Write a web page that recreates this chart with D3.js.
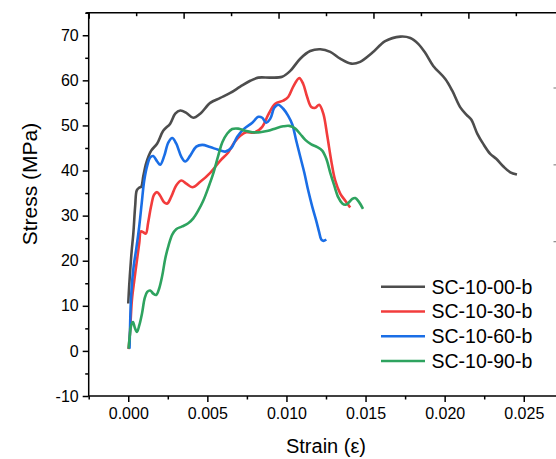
<!DOCTYPE html>
<html>
<head>
<meta charset="utf-8">
<script src="https://cdn.jsdelivr.net/npm/d3@7"></script>
<style>
  html, body { margin: 0; padding: 0; background: #fff; }
  svg { display: block; }
  text { font-family: "Liberation Sans", Arial, sans-serif; fill: #000; }
</style>
</head>
<body>
<svg id="chart" width="556" height="459"></svg>
<script>
// ---------- data ----------
const seriesNames = ["SC-10-00-b", "SC-10-30-b", "SC-10-60-b", "SC-10-90-b"];
const seriesColors = ["#4d4d4d", "#f23c3c", "#1a6ee6", "#2ea35f"];

const s00Strain = [0, 0.00006, 0.00016, 0.00022, 0.00032, 0.00044, 0.00054, 0.0007, 0.00082, 0.00095, 0.00114, 0.00145, 0.00183, 0.00221, 0.00265, 0.00297, 0.00329, 0.00367, 0.00411, 0.00455, 0.00518, 0.00582, 0.00645, 0.00708, 0.00771, 0.00822, 0.00898, 0.00973, 0.01024, 0.01087, 0.0115, 0.01214, 0.01277, 0.0134, 0.0141, 0.01466, 0.01542, 0.01624, 0.0172, 0.01783, 0.01833, 0.01877, 0.01928, 0.02004, 0.02048, 0.02099, 0.02137, 0.02168, 0.02206, 0.02244, 0.02288, 0.02326, 0.02371, 0.02415, 0.02457];
const s00Stress = [10.5, 14.5, 19.6, 22.3, 26.0, 32.2, 35.6, 36.2, 36.4, 38.7, 41.7, 44.4, 46.0, 48.8, 50.4, 52.6, 53.3, 52.8, 51.7, 52.6, 55.0, 56.1, 57.2, 58.6, 59.9, 60.6, 60.6, 60.8, 62.1, 64.8, 66.5, 66.9, 66.3, 64.8, 63.7, 64.1, 66.1, 68.7, 69.7, 69.4, 68.1, 66.1, 63.2, 60.3, 57.7, 54.0, 52.4, 51.3, 48.2, 45.9, 43.7, 42.6, 40.9, 39.6, 39.1];

const s30Strain = [0.00002, 0.0001, 0.00023, 0.00038, 0.00055, 0.0007, 0.0008, 0.00095, 0.00111, 0.00126, 0.00145, 0.00164, 0.00183, 0.00202, 0.00228, 0.00247, 0.00272, 0.00303, 0.00335, 0.00367, 0.00405, 0.00455, 0.00518, 0.00582, 0.00632, 0.0067, 0.00708, 0.00746, 0.00796, 0.00847, 0.00885, 0.00929, 0.0098, 0.01011, 0.01043, 0.01081, 0.01106, 0.01131, 0.01157, 0.01182, 0.01207, 0.01233, 0.01258, 0.01283, 0.01308, 0.0134, 0.01372, 0.01403];
const s30Stress = [0.4, 3.5, 11.2, 15.6, 20.1, 24.0, 26.5, 26.3, 26.0, 28.5, 32.2, 34.7, 35.2, 34.4, 32.9, 32.7, 34.2, 36.7, 37.8, 37.1, 36.3, 37.5, 39.5, 42.2, 44.0, 46.2, 47.7, 48.5, 48.4, 49.7, 52.4, 54.8, 55.5, 56.3, 58.6, 60.5, 59.2, 56.3, 54.1, 53.9, 54.6, 52.6, 47.7, 42.2, 37.8, 34.9, 33.3, 31.8];

const s60Strain = [0.00008, 0.00011, 0.00016, 0.00025, 0.00035, 0.00051, 0.0007, 0.00085, 0.00101, 0.0012, 0.00139, 0.00158, 0.00183, 0.00202, 0.00228, 0.00253, 0.00278, 0.00303, 0.00335, 0.0036, 0.00392, 0.0043, 0.00468, 0.00518, 0.00569, 0.00613, 0.00651, 0.00689, 0.00733, 0.00784, 0.00822, 0.00847, 0.00872, 0.00898, 0.00923, 0.00948, 0.0098, 0.01011, 0.01037, 0.01062, 0.01087, 0.01113, 0.01138, 0.01163, 0.01188, 0.01207, 0.0122, 0.01233, 0.01252];
const s60Stress = [0.5, 4.6, 10.6, 15.6, 19.0, 22.7, 27.8, 32.7, 37.8, 41.1, 42.9, 43.2, 42.0, 41.3, 43.3, 46.2, 47.2, 46.0, 43.1, 42.0, 43.3, 45.3, 45.7, 45.2, 44.6, 44.2, 45.0, 47.5, 49.3, 50.6, 51.9, 51.7, 50.6, 51.5, 53.9, 54.6, 53.7, 52.1, 50.2, 46.6, 43.1, 39.5, 35.5, 32.0, 28.9, 26.3, 24.7, 24.4, 24.7];

const s90Strain = [0.00002, 0.0001, 0.00019, 0.0003, 0.00041, 0.00055, 0.0007, 0.00087, 0.00104, 0.0012, 0.00139, 0.00158, 0.00177, 0.00196, 0.00215, 0.00234, 0.00255, 0.00278, 0.00303, 0.00341, 0.00379, 0.00411, 0.00442, 0.00474, 0.00506, 0.00537, 0.00569, 0.00594, 0.00626, 0.00657, 0.00695, 0.00739, 0.00784, 0.00834, 0.00885, 0.00936, 0.0098, 0.01018, 0.01056, 0.01087, 0.01119, 0.01157, 0.01195, 0.01226, 0.01252, 0.01277, 0.01302, 0.01327, 0.01353, 0.01372, 0.01391, 0.01416, 0.01435, 0.01457, 0.01484];
const s90Stress = [0.5, 3.5, 5.7, 6.4, 5.2, 4.2, 5.7, 8.3, 11.7, 13.1, 13.4, 12.7, 12.4, 13.9, 16.7, 20.5, 23.4, 25.8, 27.0, 27.6, 28.3, 29.4, 31.1, 33.3, 36.2, 39.3, 43.3, 46.2, 48.2, 49.2, 49.3, 48.8, 48.5, 48.5, 48.8, 49.4, 49.8, 49.9, 49.3, 48.1, 46.8, 45.8, 45.2, 44.4, 42.6, 39.5, 36.7, 34.1, 32.7, 32.4, 32.8, 33.7, 33.9, 33.1, 31.5];

const xTickValues = [0, 0.005, 0.010, 0.015, 0.020, 0.025];
const xTickLabels = ["0.000", "0.005", "0.010", "0.015", "0.020", "0.025"];
const yTickValues = [-10, 0, 10, 20, 30, 40, 50, 60, 70];
const yTickLabels = ["-10", "0", "10", "20", "30", "40", "50", "60", "70"];

const xLabel = "Strain (ε)";
const yLabel = "Stress (MPa)";

// ---------- layout ----------
const svg = d3.select("#chart");
const pLeft = 88.7, pRight = 563.3, pTop = 12.7, pBottom = 396;

const x = d3.scaleLinear().domain([-0.0025, 0.0275]).range([pLeft, pRight]);
const y = d3.scaleLinear().domain([-10, 75]).range([pBottom, pTop]);

const seriesX = [s00Strain, s30Strain, s60Strain, s90Strain];
const seriesY = [s00Stress, s30Stress, s60Stress, s90Stress];

svg.append("defs").append("clipPath").attr("id", "clip")
  .append("rect").attr("x", pLeft).attr("y", pTop)
  .attr("width", pRight - pLeft).attr("height", pBottom - pTop);

const line = d3.line()
  .x(d => x(d[0])).y(d => y(d[1]))
  .curve(d3.curveCatmullRom.alpha(0.5));

const gLines = svg.append("g").attr("clip-path", "url(#clip)");
seriesNames.forEach((name, i) => {
  const pts = seriesX[i].map((v, k) => [v, seriesY[i][k]]);
  gLines.append("path")
    .attr("d", line(pts))
    .attr("fill", "none")
    .attr("stroke", seriesColors[i])
    .attr("stroke-width", 2.6)
    .attr("stroke-linejoin", "round");
});

// ---------- axes ----------
const axisStroke = 1.5;
const fontFam = "Liberation Sans, Arial, sans-serif";

// bottom
const gx = svg.append("g").attr("transform", `translate(0,${pBottom})`);
gx.call(d3.axisBottom(x).tickValues(xTickValues).tickSize(6).tickPadding(6)
  .tickFormat((d, i) => xTickLabels[i]));
const gxm = gx.append("g").call(d3.axisBottom(x)
  .tickValues(d3.range(-0.0025, 0.0276, 0.005)).tickSize(3.5).tickFormat(""));

// left
const gy = svg.append("g").attr("transform", `translate(${pLeft},0)`);
gy.call(d3.axisLeft(y).tickValues(yTickValues).tickSize(6).tickPadding(4)
  .tickFormat((d, i) => yTickLabels[i]));
const gym = gy.append("g").call(d3.axisLeft(y)
  .tickValues(d3.range(-5, 76, 10)).tickSize(3.5).tickFormat(""));

// top (ticks only, inward)
const xTop = d3.scaleLinear().domain([0, 5]).range([pLeft, pRight]);
const gt = svg.append("g").attr("transform", `translate(0,${pTop})`);
gt.call(d3.axisTop(xTop).tickValues(d3.range(0, 5.01, 1)).tickSize(-6).tickFormat(""));
const gtm = gt.append("g").call(d3.axisTop(xTop).tickValues(d3.range(0.5, 5, 1)).tickSize(-3.5).tickFormat(""));

[gxm, gym, gtm].forEach(g => g.select("path.domain").remove());
[gx, gy, gt].forEach(g => {
  g.selectAll("path.domain").attr("stroke", "#000").attr("stroke-width", axisStroke);
  g.selectAll(".tick line").attr("stroke", "#000").attr("stroke-width", axisStroke);
  g.selectAll(".tick text").attr("font-size", 16).attr("font-family", fontFam).attr("fill", "#000");
});
gx.select("path.domain").attr("d", `M${pLeft},0H${pRight}`);
gy.select("path.domain").attr("d", `M0,${pTop}V${pBottom}`);
gt.select("path.domain").attr("d", `M${pLeft - 2.5},0H${pRight}`);

// remnant ticks of a cropped right axis
const yRight = d3.scaleLinear().domain([0, 3]).range([318.5, 88]);
svg.append("g").selectAll("line").data([1, 2, 3]).enter().append("line")
  .attr("x1", 553.5).attr("x2", 556)
  .attr("y1", d => yRight(d)).attr("y2", d => yRight(d))
  .attr("stroke", "#888").attr("stroke-width", 1.2);

// titles
svg.append("text")
  .attr("x", x(0.0125)).attr("y", 453)
  .attr("text-anchor", "middle").attr("font-size", 20)
  .text(xLabel);

svg.append("text")
  .attr("transform", `translate(37,184) rotate(-90)`)
  .attr("text-anchor", "middle").attr("font-size", 21)
  .text(yLabel);

// legend
const legY = d3.scalePoint().domain(seriesNames).range([286.7, 361]);
const leg = svg.append("g");
seriesNames.forEach((name, i) => {
  leg.append("line")
    .attr("x1", 381).attr("x2", 425)
    .attr("y1", legY(name)).attr("y2", legY(name))
    .attr("stroke", seriesColors[i]).attr("stroke-width", 2.6);
  leg.append("text")
    .attr("x", 431.5).attr("y", legY(name))
    .attr("dy", "0.36em").attr("font-size", 19.5)
    .text(name);
});
</script>
</body>
</html>
